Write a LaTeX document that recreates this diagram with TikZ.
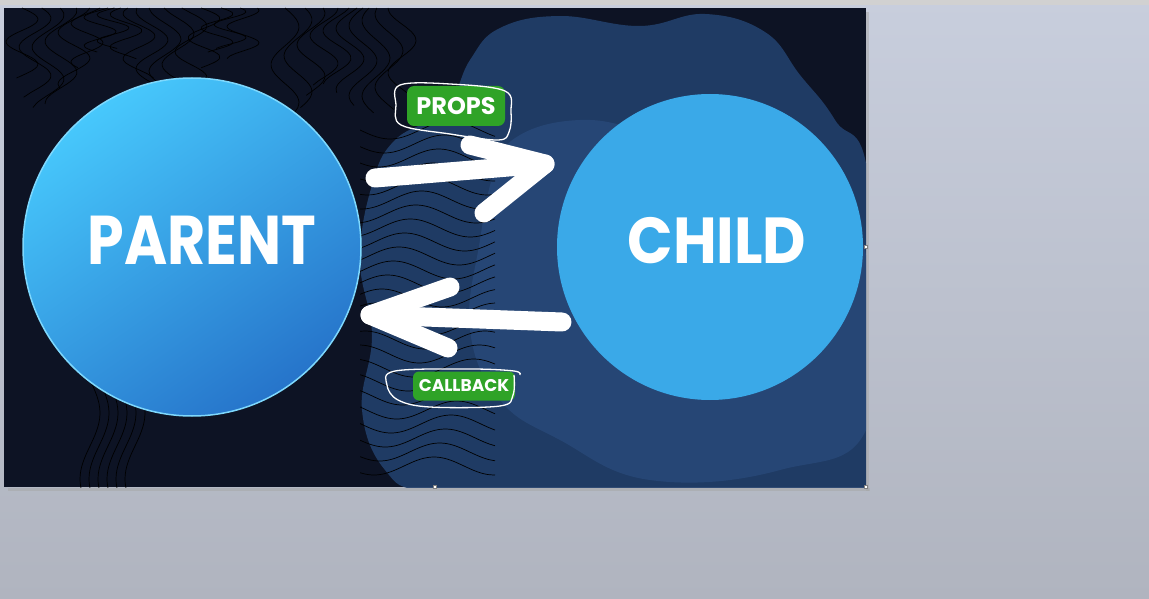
\documentclass[tikz,border=0pt]{standalone}
\usepackage{fontspec}
\setmainfont{Poppins}
\definecolor{slidebg}{HTML}{0D1324}
\definecolor{blobdark}{HTML}{22406C}
\definecolor{bloblight}{HTML}{30558A}
\definecolor{parentlight}{HTML}{47C8FC}
\definecolor{parentdark}{HTML}{2674CA}
\definecolor{childblue}{HTML}{3AA9E8}
\definecolor{badgegreen}{HTML}{2FA327}
\definecolor{wintop}{HTML}{C8CEDD}
\definecolor{winbottom}{HTML}{B0B4BF}
\begin{document}
\begin{tikzpicture}[x=1pt,y=-1pt,
	contour/.style={black, line width=0.7pt},
	brush/.style={white, line width=19pt, line cap=round, line join=round},
	badge/.style={fill=badgegreen, rounded corners=7pt, text=white, font=\bfseries},
	scribble/.style={white, line width=1.3pt},
	handle/.style={draw=gray, fill=white, line width=0.4pt, minimum size=3pt, inner sep=0pt}]
	\useasboundingbox (0,0) rectangle (1149,599);
	
	% Window around the slide
	\shade[top color=wintop, bottom color=winbottom] (0,0) rectangle (1149,599);
	\fill[black!18] (0,0) rectangle (1149,5);
	\fill[black!35, opacity=0.5] (8,488) rectangle (870,491);
	\fill[black!35, opacity=0.5] (866,12) rectangle (869,491);
	
	% Slide
	\fill[slidebg] (4,8) rectangle (866,487);
	\begin{scope}
		\clip (4,8) rectangle (866,487);
		
		% Watercolour blob
		\fill[blobdark, opacity=0.9] plot[smooth cycle, tension=0.7] coordinates {
			(500,28) (560,16) (640,26) (705,14) (765,32) (800,75) (835,120) (870,190)
			(875,490) (560,495) (430,492) (385,470) (362,410) (372,335) (360,260)
			(372,185) (395,140) (445,110) (470,60)};
		\fill[bloblight, opacity=0.45] plot[smooth cycle, tension=0.7] coordinates {
			(520,135) (580,120) (640,130) (700,150) (800,170) (860,230)
			(870,420) (780,470) (650,480) (560,440) (500,400) (470,330)
			(480,240) (495,170)};
		
		% Contours top left
		\foreach \k in {0,...,17} {
			\draw[contour] plot[smooth, domain=0:1, samples=20]
				({22+13*\k+16*sin(560*\x+25*\k)}, {8+(70+30*sin(40*\k))*\x});
		}
		\foreach \k in {0,...,9} {
			\draw[contour] plot[smooth, domain=0:1, samples=20]
				({285+13*\k+14*sin(500*\x+30*\k)}, {8+(90+15*cos(50*\k))*\x});
		}
		% Contours in the middle
		\begin{scope}
			\clip (360,120) rectangle (495,487);
			\foreach \k in {0,...,24} {
				\draw[contour] plot[smooth, domain=360:495, samples=25]
					(\x, {130+14*\k+9*sin(3*\x+17*\k)});
			}
		\end{scope}
		% Contours bottom left
		\foreach \k in {0,...,5} {
			\draw[contour] plot[smooth, domain=0:1, samples=15]
				({90+9*\k+10*sin(300*\x)}, {380+110*\x});
		}
	\end{scope}
	
	% Parent
	\shade[top color=parentlight, bottom color=parentdark, shading angle=35] (192,247) circle (169);
	\draw[parentlight!70!white, line width=1.5pt] (192,247) circle (169);
	\node[font=\fontsize{69}{69}\selectfont\bfseries, text=white, xscale=0.85] (parent) at (202,240) {PARENT};
	
	% Child
	\fill[childblue] (710,247) circle (153);
	\node[font=\fontsize{65}{65}\selectfont\bfseries, text=white, xscale=0.92] (child) at (717,241) {CHILD};
	
	% Props arrow
	\coordinate (propsTail) at (375,178);
	\coordinate (propsTip) at (545,164);
	\coordinate (propsWingA) at (470,145);
	\coordinate (propsWingB) at (484,213);
	\draw[brush] (propsTail) -- (propsTip);
	\draw[brush] (propsWingA) -- (propsTip) -- (propsWingB);
	
	% Callback arrow
	\coordinate (callbackTail) at (562,322);
	\coordinate (callbackTip) at (370,315);
	\coordinate (callbackWingA) at (450,287);
	\coordinate (callbackWingB) at (448,348);
	\draw[brush] (callbackTail) -- (callbackTip);
	\draw[brush] (callbackWingA) -- (callbackTip) -- (callbackWingB);
	
	% Labels
	\node[badge, font=\fontsize{24}{24}\selectfont\bfseries, minimum width=98pt, minimum height=40pt] (props) at (456,106) {PROPS};
	\draw[scribble] plot[smooth cycle, tension=0.6] coordinates {
		(400,85) (450,84) (505,91) (511,112) (509,132) (498,140) (450,134) (401,125) (396,105)};
	\node[badge, font=\fontsize{17}{17}\selectfont\bfseries, minimum width=102pt, minimum height=29pt, rounded corners=6pt] (callback) at (464,386) {CALLBACK};
	\draw[scribble] plot[smooth, tension=0.6] coordinates {
		(520,375) (514,371) (470,369) (395,371) (387,385) (398,400) (430,407) (500,406) (513,395) (514,375)};
	
	% Selection handles
	\node[handle] (handleRight) at (866,247) {};
	\node[handle] (handleCorner) at (866,487) {};
	\node[handle] (handleBottom) at (435,487) {};
\end{tikzpicture}
\end{document}
